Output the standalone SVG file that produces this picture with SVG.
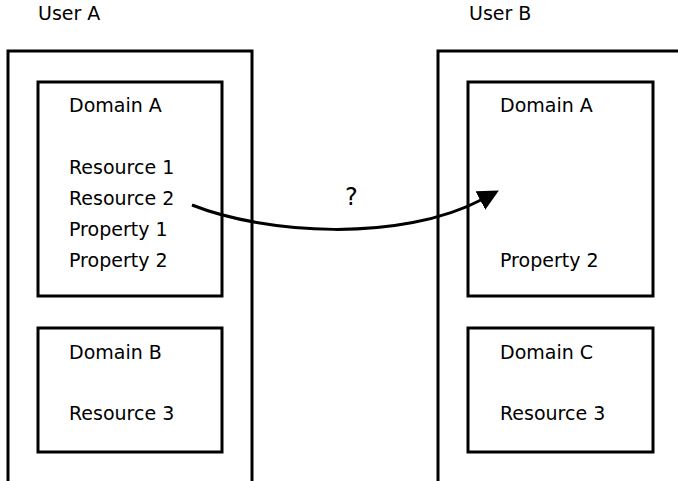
<svg xmlns="http://www.w3.org/2000/svg" width="678" height="481" viewBox="0 0 678 481">
<style>
.box{fill:none;stroke:#000;stroke-width:3}
.t{font-family:"DejaVu Sans",sans-serif;font-size:19px;fill:#000}
.c{fill:none;stroke:#000;stroke-width:3}
</style>
<defs>
<marker id="ah" markerWidth="8" markerHeight="8" refX="1" refY="3.5" orient="auto" markerUnits="strokeWidth" viewBox="0 0 8 7">
<path d="M0,0 L7,3.5 L0,7 z" fill="#000"/>
</marker>
</defs>
<rect width="678" height="481" fill="#fff"/>
<g id="userA">
<text class="t" x="38" y="20">User A</text>
<rect class="box" x="8" y="51" width="244" height="440"/>
</g>
<g id="userB">
<text class="t" x="469" y="20">User B</text>
<rect class="box" x="438" y="51" width="260" height="440"/>
</g>
<g id="domainA_left">
<rect class="box" x="38" y="82" width="184" height="214"/>
<text class="t" x="69" y="112">Domain A</text>
<text class="t" x="69" y="174">Resource 1</text>
<text class="t" x="69" y="205">Resource 2</text>
<text class="t" x="69" y="236">Property 1</text>
<text class="t" x="69" y="267">Property 2</text>
</g>
<g id="domainB">
<rect class="box" x="38" y="328" width="184" height="124"/>
<text class="t" x="69" y="359">Domain B</text>
<text class="t" x="69" y="420">Resource 3</text>
</g>
<g id="domainA_right">
<rect class="box" x="468" y="82" width="185" height="214"/>
<text class="t" x="500" y="112">Domain A</text>
<text class="t" x="500" y="267">Property 2</text>
</g>
<g id="domainC">
<rect class="box" x="468" y="328" width="185" height="124"/>
<text class="t" x="500" y="359">Domain C</text>
<text class="t" x="500" y="420">Resource 3</text>
</g>
<g id="connectors">
<path class="c" d="M192,205 C265,234 400,243 483,199" marker-end="url(#ah)"/>
<text class="t" x="345" y="205" style="font-size:24px">?</text>
</g>
</svg>
